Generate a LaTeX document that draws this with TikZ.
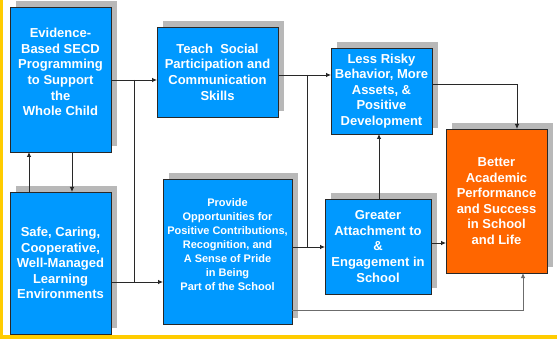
\documentclass[tikz,border=0pt]{standalone}
\usepackage{fontspec}
\setmainfont{Liberation Sans}
\usetikzlibrary{arrows.meta,shadows}
\definecolor{boxblue}{RGB}{0,153,255}
\definecolor{boxorange}{RGB}{255,102,0}
\definecolor{frameyellow}{RGB}{255,204,0}
\definecolor{linegray}{RGB}{40,40,40}
\tikzset{
  boxbase/.style={draw=linegray, line width=0.8pt, inner sep=0pt, outer sep=0pt,
    drop shadow={shadow xshift=6pt, shadow yshift=6pt, fill=gray!65, opacity=0.85},
    text=white, align=center, font=\bfseries\fontsize{13}{15.6}\selectfont},
  bluebox/.style={boxbase, fill=boxblue},
  orangebox/.style={boxbase, fill=boxorange},
  boxtext/.style={text=white, align=center, inner sep=0pt},
  conn/.style={draw=linegray, line width=0.8pt},
  arr/.style={conn, -{Latex[length=5pt,width=4.5pt]}},
}
\begin{document}
\begin{tikzpicture}[x=1pt,y=-1pt]
\useasboundingbox (0,0) rectangle (557,339);
\fill[white] (0,0) rectangle (557,339);
% frame
\fill[frameyellow] (0,0) rectangle (2.5,339);
\fill[frameyellow] (0,335) rectangle (557,339);

% boxes
\node[bluebox, minimum width=101pt, minimum height=145pt] (evid) at (60.5,79.5) {};
\node[boxtext, font=\bfseries\fontsize{13}{15.6}\selectfont] (evidtext) at (60.5,72)
  {Evidence-\\Based SECD\\Programming\\to Support\\the\\Whole Child};

\node[bluebox, minimum width=121pt, minimum height=90pt] (teach) at (217.5,72)
  {Teach\ \ Social\\Participation and\\Communication\\Skills};

\node[bluebox, minimum width=101pt, minimum height=86pt] (less) at (381.5,91)
  {Less Risky\\Behavior, More\\Assets, \&\\Positive\\Development};

\node[orangebox, minimum width=101pt, minimum height=144pt] (better) at (496.5,201)
  {Better\\Academic\\Performance\\and Success\\in School\\and Life};

\node[bluebox, minimum width=101pt, minimum height=142pt] (safe) at (60.5,263)
  {Safe, Caring,\\Cooperative,\\Well-Managed\\Learning\\Environments};

\node[bluebox, minimum width=129pt, minimum height=145pt] (provide) at (227.5,251.5) {};
\node[boxtext, font=\bfseries\fontsize{11}{14}\selectfont] (providetext) at (227.5,244.5)
  {Provide\\Opportunities for\\Positive Contributions,\\Recognition, and\\A Sense of Pride\\in Being\\Part of the School};

\node[bluebox, minimum width=106pt, minimum height=95pt] (greater) at (378,246.5)
  {Greater\\Attachment to\\\&\\Engagement in\\School};

% helper coordinates
\coordinate (ya) at (0,80);
\coordinate (yb) at (0,282);
\coordinate (xj) at (134,0);
\coordinate (xd) at (72,0);
\coordinate (xu) at (29,0);
\coordinate (yc) at (0,75);
\coordinate (yd) at (0,247);
\coordinate (xk) at (307,0);
\coordinate (ye) at (0,84);
\coordinate (xe) at (517,0);
\coordinate (xg) at (379,0);
\coordinate (yg) at (0,243);
\coordinate (yh) at (0,310);
\coordinate (xh) at (523,0);

% connectors
\draw[arr] (evid.east |- ya) -- (teach.west |- ya);
\draw[arr] (safe.east |- yb) -- (provide.west |- yb);
\draw[conn] (xj |- ya) -- (xj |- yb);
\draw[arr] (evid.south -| xd) -- (safe.north -| xd);
\draw[arr] (safe.north -| xu) -- (evid.south -| xu);

\draw[arr] (teach.east |- yc) -- (less.west |- yc);
\draw[arr] (provide.east |- yd) -- (greater.west |- yd);
\draw[conn] (xk |- yc) -- (xk |- yd);

\draw[arr] (less.east |- ye) -- (xe |- ye) -- (better.north -| xe);
\draw[arr] (greater.north -| xg) -- (less.south -| xg);
\draw[arr] (greater.east |- yg) -- (better.west |- yg);
\draw[arr, draw=gray!85!black] (provide.east |- yh) -- (xh |- yh) -- (better.south -| xh);
\end{tikzpicture}
\end{document}
